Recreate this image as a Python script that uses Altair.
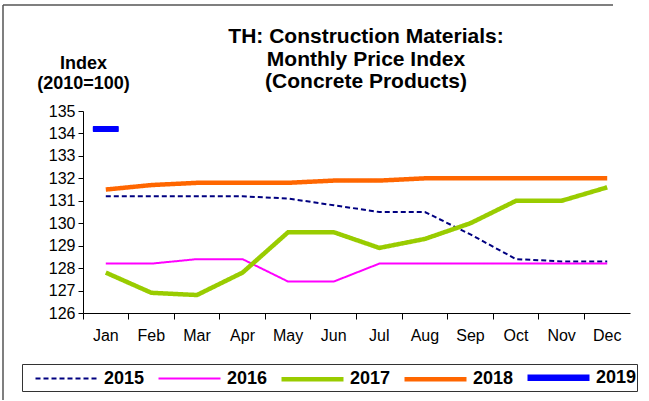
import altair as alt
import pandas as pd

months = ["Jan", "Feb", "Mar", "Apr", "May", "Jun", "Jul", "Aug", "Sep", "Oct", "Nov", "Dec"]
v2015 = [131.2, 131.2, 131.2, 131.2, 131.1, 130.8, 130.5, 130.5, 129.5, 128.4, 128.3, 128.3]
v2016 = [128.2, 128.2, 128.4, 128.4, 127.4, 127.4, 128.2, 128.2, 128.2, 128.2, 128.2, 128.2]
v2017 = [127.8, 126.9, 126.8, 127.8, 129.6, 129.6, 128.9, 129.3, 130.0, 131.0, 131.0, 131.6]
v2018 = [131.5, 131.7, 131.8, 131.8, 131.8, 131.9, 131.9, 132.0, 132.0, 132.0, 132.0, 132.0]
v2019 = [134.2]
years = ["2015", "2016", "2017", "2018", "2019"]
colors = ["#000080", "#FF00FF", "#99CC00", "#FF6600", "#0000FF"]
widths = [2, 2, 4.5, 4.5, 6.5]
dashes = [[5, 3], [1, 0], [1, 0], [1, 0], [1, 0]]
title_lines = ["TH: Construction Materials:", "Monthly Price Index", "(Concrete Products)"]
y_ticks = [126, 127, 128, 129, 130, 131, 132, 133, 134, 135]

rows = []
for yr, vals in zip(years, [v2015, v2016, v2017, v2018, v2019]):
    for m, v in zip(months, vals):
        rows.append({"month": m, "year": yr, "value": v})
df = pd.DataFrame(rows)

x = alt.X("month:N", sort=months, title=None,
          scale=alt.Scale(domain=months, paddingInner=0, paddingOuter=0),
          axis=alt.Axis(bandPosition=0, labelAngle=0, labelPadding=8, tickSize=6,
                        labelFontSize=16, domainColor="black", tickColor="black",
                        labelColor="black", grid=False))
y = alt.Y("value:Q", scale=alt.Scale(domain=[126, 135], nice=False, zero=False),
          axis=alt.Axis(values=y_ticks, tickCount=10, tickSize=5, labelFontSize=16,
                        labelOverlap=False, labelPadding=3, domainColor="black",
                        tickColor="black", labelColor="black", grid=False,
                        title=["Index", "(2010=100)"], titleAngle=0, titleAlign="center",
                        titleBaseline="middle", titleX=0, titleY=-48, titleLineHeight=20,
                        titleFontSize=18, titleFontWeight="bold", titleColor="black"))

legend = alt.Legend(title=None, orient="none", legendX=-61, legendY=253, direction="horizontal",
                    columns=5, symbolType="M0,0H6.2", symbolSize=400, labelFontSize=18,
                    labelFontWeight="bold", labelColor="black", labelOffset=55,
                    labelBaseline="middle",
                    columnPadding=0, strokeColor="#333333", fillColor="white",
                    padding=0)

lines = alt.Chart(df).mark_line().encode(
    x=x, y=y,
    color=alt.Color("year:N", scale=alt.Scale(domain=years, range=colors), legend=legend),
    strokeWidth=alt.StrokeWidth("year:N", scale=alt.Scale(type="ordinal", domain=years, range=widths), legend=legend),
    strokeDash=alt.StrokeDash("year:N", scale=alt.Scale(domain=years, range=dashes), legend=legend),
)

tick = alt.Chart(df[df["year"] == "2019"]).mark_tick(size=26, thickness=6, color="#0000FF",
                                                     opacity=1, cornerRadius=1).encode(
    x=x, y=y
)

title = alt.Chart(df.head(1)).mark_text(fontSize=21, fontWeight="bold", color="black",
                                        lineHeight=22.5, baseline="middle", align="center").encode(
    x=alt.value(283), y=alt.value(-74), text=alt.value(title_lines)
)

frame_left = alt.Chart(df.head(1)).mark_rule(stroke="#555555", strokeWidth=1.5, clip=False).encode(
    x=alt.value(-80), y=alt.value(-106), y2=alt.value(289)
)
frame_top = alt.Chart(df.head(1)).mark_rule(stroke="#555555", strokeWidth=1.5, clip=False).encode(
    x=alt.value(-80), x2=alt.value(530), y=alt.value(-106)
)

chart = alt.layer(frame_left, frame_top, lines, tick, title).properties(
    width=547, height=202,
    padding={"left": 83, "top": 111, "right": 19, "bottom": 88},
    autosize=alt.AutoSizeParams(type="none"),
).configure(font="Liberation Sans").configure_view(stroke=None)

chart.save("out.html", embed_options={"renderer": "svg", "actions": False})
